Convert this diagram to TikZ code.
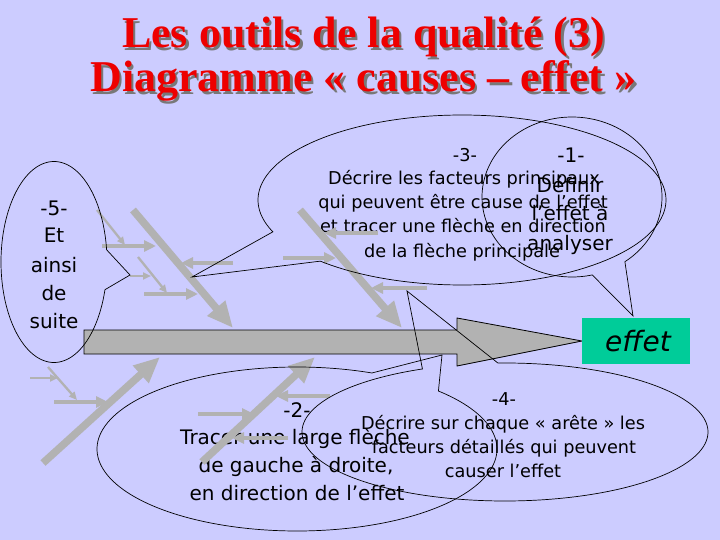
\documentclass[tikz,border=0pt]{standalone}
\usepackage{fontspec}
\setmainfont{DejaVu Sans}
\newfontfamily\titlefont{Liberation Serif}
\usetikzlibrary{arrows.meta,calc}
\definecolor{bg}{RGB}{204,204,255}
\definecolor{bone}{RGB}{178,178,178}
\definecolor{effetgreen}{RGB}{0,204,153}
\definecolor{titlered}{RGB}{238,0,0}
\definecolor{titleshadow}{RGB}{120,120,120}
\begin{document}
\begin{tikzpicture}[x=1pt,y=-1pt,
  bigbone/.style={draw=bone, line width=7.5pt, -{Triangle[length=26pt,width=22pt]}},
  midbone/.style={draw=bone, line width=4.3pt, -{Triangle[length=12pt,width=11pt]}},
  thinbone/.style={draw=bone, line width=2.3pt, -{Triangle[length=8pt,width=7pt]}},
  callout/.style={draw=black, line width=0.7pt},
  txtS/.style={font=\fontsize{17.7}{24}\selectfont, anchor=base, inner sep=0pt},
  txtL/.style={font=\fontsize{20}{28}\selectfont, anchor=base, inner sep=0pt},
  titletxt/.style={font=\titlefont\bfseries\fontsize{44}{48}\selectfont, anchor=base, inner sep=0pt}]
\useasboundingbox (0,0) rectangle (720,540);
\fill[bg] (0,0) rectangle (720,540);

% title
\node[titletxt, text=titleshadow] (t1s) at (366,50.5) {Les outils de la qualité (3)};
\node[titletxt, text=titleshadow] (t2s) at (366,94.5) {Diagramme « causes – effet »};
\node[titletxt, text=titlered] (t1) at (363.5,48) {Les outils de la qualité (3)};
\node[titletxt, text=titlered] (t2) at (363.5,92) {Diagramme « causes – effet »};

% callout texts
\node[txtL] (n5a) at (54,215) {-5-};
\node[txtL] (n5b) at (54,243) {Et};
\node[txtL] (n5c) at (54,272) {ainsi};
\node[txtL] (n5d) at (54,300) {de};
\node[txtL] (n5e) at (54,328) {suite};

\node[txtS] (n3a) at (465,162) {-3-};
\node[txtS] (n3b) at (464,185) {Décrire les facteurs principaux};
\node[txtS] (n3c) at (463,209) {qui peuvent être cause de l’effet};
\node[txtS] (n3d) at (463,233) {et tracer une flèche en direction};
\node[txtS] (n3e) at (462,257) {de la flèche principale};

\node[txtL] (n1a) at (571,163) {-1-};
\node[txtL] (n1b) at (570,193) {Définir};
\node[txtL] (n1c) at (570,221) {l’effet à};
\node[txtL] (n1d) at (570,250) {analyser};

\node[txtL] (n2a) at (297,417) {-2-};
\node[txtL] (n2b) at (295,444) {Tracer une large flèche};
\node[txtL] (n2c) at (296,472) {de gauche à droite,};
\node[txtL] (n2d) at (297,500) {en direction de l’effet};

\node[txtS] (n4a) at (504,405) {-4-};
\node[txtS] (n4b) at (503,429) {Décrire sur chaque « arête » les};
\node[txtS] (n4c) at (504,453) {facteurs détaillés qui peuvent};
\node[txtS] (n4d) at (503,477) {causer l’effet};

% main bones
\coordinate (b1s) at (133,210); \coordinate (b1e) at (233,328);
\coordinate (b2s) at (300,210); \coordinate (b2e) at (402,328);
\coordinate (b3s) at (43,463);  \coordinate (b3e) at (160,357);
\coordinate (b4s) at (202,462); \coordinate (b4e) at (315,357);
\draw[bigbone] (b1s) -- (b1e);
\draw[bigbone] (b2s) -- (b2e);
\draw[bigbone] (b3s) -- (b3e);
\draw[bigbone] (b4s) -- (b4e);

% secondary arrows
\draw[midbone] (102,246) -- (156,246);
\draw[midbone] (233,263) -- (181,263);
\draw[midbone] (144,294) -- (198,294);
\draw[midbone] (283,258) -- (336,258);
\draw[midbone] (378,233) -- (324,233);
\draw[midbone] (427,288) -- (371,288);
\draw[midbone] (54,402) -- (108,402);
\draw[midbone] (330,396) -- (276,396);
\draw[midbone] (198,414) -- (254,414);
\draw[midbone] (288,438) -- (232,438);

% thin arrows
\draw[thinbone] (97,210) -- (125,245);
\draw[thinbone] (130,276) -- (151,276);
\draw[thinbone] (138,257) -- (167,293);
\draw[thinbone] (48,367) -- (77,400);
\draw[thinbone] (30,378) -- (58,378);

% main arrow
\draw[fill=bone, draw=black, line width=0.8pt] (84,330) -- (457,330) -- (457,318) -- (582,341) -- (457,366) -- (457,354) -- (84,354) -- cycle;

% callout outlines
\coordinate (tip5) at (130,275);
\coordinate (tip3) at (192,277);
\coordinate (tip1) at (633,316);
\coordinate (tip2) at (442,355);
\coordinate (tip4) at (407,291);
\draw[callout] plot[domain=16:353, samples=160, variable=\t] ({54+53*cos(\t)},{262+100.5*sin(\t)}) -- (tip5) -- cycle;
\draw[callout] plot[domain=158:494, samples=200, variable=\t] ({462+204*cos(\t)},{200+85*sin(\t)}) -- (tip3) -- cycle;
\draw[callout] plot[domain=77:414, samples=160, variable=\t] ({572+90*cos(\t)},{197+80*sin(\t)}) -- (tip1) -- cycle;
\draw[callout] plot[domain=-45:292, samples=200, variable=\t] ({297+200*cos(\t)},{449+82*sin(\t)}) -- (tip2) -- cycle;
\draw[callout] plot[domain=-92:246, samples=200, variable=\t] ({505+203*cos(\t)},{432+69*sin(\t)}) -- (tip4) -- cycle;

% effect box
\node[fill=effetgreen, minimum width=108pt, minimum height=46pt, inner sep=0pt] (effetbox) at (636,341) {};
\node[font=\fontsize{28}{30}\selectfont\itshape, inner sep=0pt] (effet) at (638,341) {effet};
\end{tikzpicture}
\end{document}
